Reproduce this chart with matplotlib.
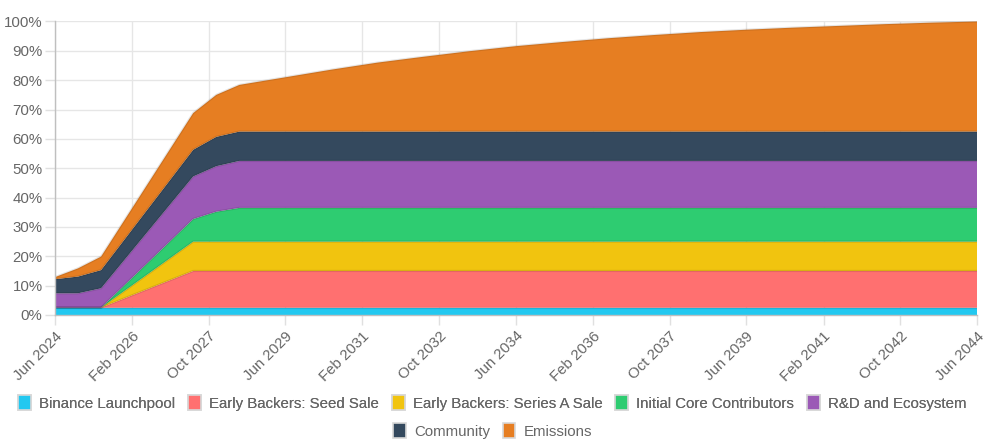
import matplotlib
matplotlib.use("Agg")
import matplotlib.pyplot as plt
import matplotlib.dates as mdates
import numpy as np
from datetime import datetime
from matplotlib.patches import Patch
from matplotlib.ticker import FuncFormatter, MultipleLocator

plt.rcParams['font.family'] = ['Liberation Sans', 'DejaVu Sans']

# Unlock schedule, share of total supply (%) per allocation
months = ["Jun 2024", "Dec 2024", "Jun 2025", "Jun 2027", "Dec 2027", "Jun 2028",
          "Jun 2029", "Jun 2030", "Jun 2031", "Jun 2032", "Jun 2033", "Jun 2034",
          "Jun 2035", "Jun 2036", "Jun 2037", "Jun 2038", "Jun 2039", "Jun 2040",
          "Jun 2041", "Jun 2042", "Jun 2043", "Jun 2044"]

launchpool = [2.5, 2.5, 2.5, 2.5, 2.5, 2.5, 2.5, 2.5, 2.5, 2.5, 2.5,
              2.5, 2.5, 2.5, 2.5, 2.5, 2.5, 2.5, 2.5, 2.5, 2.5, 2.5]
seed_sale = [0, 0, 0, 12.5, 12.5, 12.5, 12.5, 12.5, 12.5, 12.5, 12.5,
             12.5, 12.5, 12.5, 12.5, 12.5, 12.5, 12.5, 12.5, 12.5, 12.5, 12.5]
series_a = [0, 0, 0, 10, 10, 10, 10, 10, 10, 10, 10,
            10, 10, 10, 10, 10, 10, 10, 10, 10, 10, 10]
core = [0, 0, 0, 7.7, 10.2, 11.5, 11.5, 11.5, 11.5, 11.5, 11.5,
        11.5, 11.5, 11.5, 11.5, 11.5, 11.5, 11.5, 11.5, 11.5, 11.5, 11.5]
rnd = [4.9, 4.9, 6.6, 14.5, 15.5, 16.0, 16.0, 16.0, 16.0, 16.0, 16.0,
       16.0, 16.0, 16.0, 16.0, 16.0, 16.0, 16.0, 16.0, 16.0, 16.0, 16.0]
community = [4.8, 5.7, 6.2, 9.1, 10.0, 10.0, 10.0, 10.0, 10.0, 10.0, 10.0,
             10.0, 10.0, 10.0, 10.0, 10.0, 10.0, 10.0, 10.0, 10.0, 10.0, 10.0]
emissions = [0.7, 2.8, 4.6, 12.5, 14.3, 15.9, 18.5, 21.1, 23.5, 25.5, 27.4,
             29.1, 30.5, 31.8, 32.9, 33.9, 34.7, 35.4, 36.0, 36.6, 37.1, 37.5]

labels = ["Binance Launchpool", "Early Backers: Seed Sale", "Early Backers: Series A Sale",
          "Initial Core Contributors", "R&D and Ecosystem", "Community", "Emissions"]
colors = ["#22c8f0", "#ff7070", "#f1c40f", "#2ecc71", "#9b59b6", "#34495e", "#e67e22"]

tick_labels = ["Jun 2024", "Feb 2026", "Oct 2027", "Jun 2029", "Feb 2031", "Oct 2032",
               "Jun 2034", "Feb 2036", "Oct 2037", "Jun 2039", "Feb 2041", "Oct 2042",
               "Jun 2044"]

x = [datetime.strptime(m, "%b %Y") for m in months]
ticks = [datetime.strptime(t, "%b %Y") for t in tick_labels]
series = [launchpool, seed_sale, series_a, core, rnd, community, emissions]

fig = plt.figure(figsize=(9.85, 4.45), dpi=100)
ax = fig.add_axes([55 / 985, 130 / 445, 922 / 985, 293.5 / 445])

ax.stackplot(x, *series, colors=colors, linewidth=0)
tops = np.cumsum(np.array(series, dtype=float), axis=0)
for top in tops:
    ax.plot(x, top, color=(0, 0, 0, 0.1), lw=1.6, solid_joinstyle="round")

ax.set_xlim(ticks[0], ticks[-1])
ax.set_ylim(0, 100)
ax.yaxis.set_major_locator(MultipleLocator(10))
ax.yaxis.set_major_formatter(FuncFormatter(lambda v, p: f"{v:.0f}%"))
ax.set_xticks(ticks)
ax.set_xticklabels(tick_labels, rotation=45, ha="right", rotation_mode="anchor")

ax.grid(True, color="#e6e6e6", lw=1)
ax.set_axisbelow(True)
for s in ["top", "right"]:
    ax.spines[s].set_visible(False)
for s in ["left", "bottom"]:
    ax.spines[s].set_color("#bfbfbf")
    ax.spines[s].set_linewidth(1)
ax.tick_params(axis="both", colors="#e0e0e0", labelcolor="#666666", labelsize=10.8,
               length=7, width=1)
ax.tick_params(axis="y", pad=2)
ax.tick_params(axis="x", pad=3)

handles = [Patch(facecolor=c, edgecolor="#d8d8d8", linewidth=1.2) for c in colors]
leg_kw = dict(frameon=False, fontsize=10.8, labelcolor="#666666", handlelength=0.85,
              handleheight=1.15, handletextpad=0.55, columnspacing=0.85,
              borderaxespad=0, borderpad=0)
leg1 = fig.legend(handles[:5], labels[:5], ncol=5, loc="center",
                  bbox_to_anchor=(0.5, 1 - 403 / 445), **leg_kw)
fig.add_artist(leg1)
fig.legend(handles[5:], labels[5:], ncol=2, loc="center",
           bbox_to_anchor=(0.5, 1 - 431 / 445), **leg_kw)

fig.savefig("out.png", dpi=100)
